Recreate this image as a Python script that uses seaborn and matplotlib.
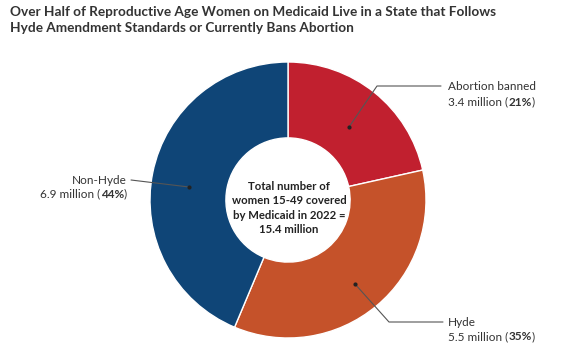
import matplotlib
matplotlib.use("Agg")
import matplotlib.pyplot as plt
import seaborn as sns

categories = ["Abortion banned", "Hyde", "Non-Hyde"]
values = [3.4, 5.5, 6.9]
percents = ["21%", "35%", "44%"]
colors = ["#C1202F", "#C5522A", "#0F4577"]
title = ("Over Half of Reproductive Age Women on Medicaid Live in a State that Follows\n"
         "Hyde Amendment Standards or Currently Bans Abortion")
center_lines = ["Total number of", "women 15-49 covered", "by Medicaid in 2022 =", "15.4 million"]

sns.set_theme(style="white")
FONT = ["Lato", "DejaVu Sans"]
plt.rcParams["font.family"] = FONT

W, H = 563, 362
fig = plt.figure(figsize=(W / 100, H / 100), dpi=100)
ax = fig.add_axes([0, 0, 1, 1])

def Y(py):
    return H - py

cx, cy, R = 288, 200, 138
ax.pie(values, colors=colors, startangle=90, counterclock=False,
       center=(cx, Y(cy)), radius=R, frame=True,
       wedgeprops=dict(width=R * 0.55, edgecolor="white", linewidth=1))
ax.set_xlim(0, W)
ax.set_ylim(0, H)
ax.set_aspect("equal")
ax.axis("off")

fig.text(10 / W, 1 - 6 / H, title, ha="left", va="top", fontsize=9.8,
         fontweight="bold", color="#333333", linespacing=1.45)

for i, line in enumerate(center_lines):
    ax.text(cx + 1, Y(186 + i * 14.6), line, ha="center", va="center",
            fontsize=8.2, fontweight="bold", color="#222222")

lc = "#555555"
tc = "#333333"
# leader lines
ax.plot([349, 377, 441], [Y(127), Y(86), Y(86)], color=lc, lw=0.8)
ax.plot([349], [Y(127)], "o", color="#222222", ms=2)
ax.plot([131, 189], [Y(180), Y(187)], color=lc, lw=0.8)
ax.plot([189], [Y(187)], "o", color="#222222", ms=2)
ax.plot([355, 389, 443], [Y(284), Y(322), Y(322)], color=lc, lw=0.8)
ax.plot([355], [Y(284)], "o", color="#222222", ms=2)

fig.canvas.draw()
renderer = fig.canvas.get_renderer()

def width_of(t):
    bb = t.get_window_extent(renderer=renderer)
    return bb.width  # pixels == data units here

def mixed(x, py, parts, align="left", fs=8.5):
    arts = []
    for s, w in parts:
        t = ax.text(0, Y(py), s, ha="left", va="center", fontsize=fs,
                    fontweight=w, color=tc)
        arts.append(t)
    total = sum(width_of(t) for t in arts)
    start = x - total if align == "right" else x
    for t in arts:
        t.set_x(start)
        start += width_of(t)

mixed(448, 87, [("Abortion banned", "normal")])
mixed(448, 102, [("3.4 million (", "normal"), (percents[0], "bold"), (")", "normal")])
mixed(127, 180, [("Non-Hyde", "normal")], align="right")
mixed(127, 194, [("6.9 million (", "normal"), (percents[2], "bold"), (")", "normal")], align="right")
mixed(448, 323, [("Hyde", "normal")])
mixed(448, 337, [("5.5 million (", "normal"), (percents[1], "bold"), (")", "normal")])

fig.savefig("out.png", dpi=100)
